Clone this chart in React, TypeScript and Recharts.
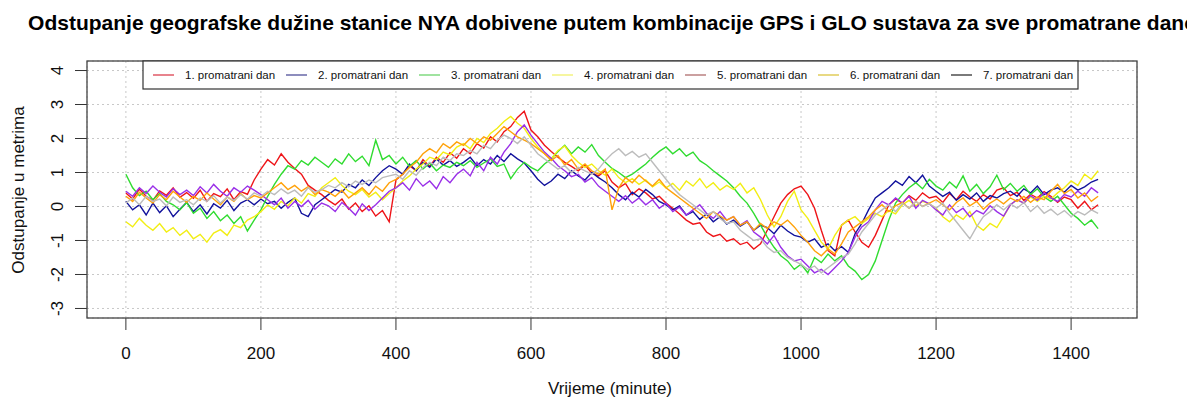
import React from 'react';
import { LineChart, Line, XAxis, YAxis, CartesianGrid } from 'recharts';

// time grid (minutes), sampled every 10 minutes
const minutes: number[] = Array.from({ length: 145 }, (_, i) => i * 10);

const xTicks = [0, 200, 400, 600, 800, 1000, 1200, 1400];
const yTicks = [-3, -2, -1, 0, 1, 2, 3, 4];

const seriesNames = [
  '1. promatrani dan',
  '2. promatrani dan',
  '3. promatrani dan',
  '4. promatrani dan',
  '5. promatrani dan',
  '6. promatrani dan',
  '7. promatrani dan',
];
const lineColors = ['#ee1418', '#12129c', '#30dc30', '#f2ee14', '#9a30e8', '#ffa20a', '#bcbcbc'];
const legendColors = ['#d83040', '#404090', '#60d060', '#f0f060', '#a86060', '#d8c030', '#202020'];

const day1 = [
  0.40, 0.22, 0.51, 0.30, 0.18, 0.46, 0.33, 0.55, 0.27, 0.41,
  0.24, 0.48, 0.15, 0.38, 0.29, 0.52, 0.20, 0.44, 0.36, 0.78,
  1.10, 1.38, 1.22, 1.55, 1.30, 1.12, 0.95, 0.62, 0.48, 0.35,
  0.18, 0.05, 0.22, -0.08, 0.10, -0.15, 0.02, -0.28, -0.12, -0.45,
  0.78, 0.95, 1.20, 1.05, 1.38, 1.18, 1.45, 1.30, 1.58, 1.42,
  1.70, 1.55, 1.85, 1.72, 2.05, 1.90, 2.20, 2.35, 2.62, 2.80,
  2.25, 2.05, 1.80, 1.62, 1.45, 1.30, 1.18, 1.05, 1.22, 0.98,
  0.90, 1.05, 0.72, 0.55, 0.68, 0.35, 0.52, 0.40, 0.22, 0.30,
  0.10, -0.05, -0.22, -0.40, -0.52, -0.48, -0.75, -0.88, -0.82, -1.02,
  -0.95, -1.12, -1.05, -1.25, -1.10, -0.70, -0.30, 0.10, 0.35, 0.52,
  0.60, 0.35, -0.05, -0.70, -1.30, -1.45, -0.55, -0.40, -0.75, -1.05,
  -1.20, -0.85, -0.40, 0.05, 0.22, 0.10, 0.32, 0.18, 0.40, 0.25,
  0.30, 0.12, 0.38, 0.20, 0.45, 0.28, 0.15, 0.35, 0.22, 0.48,
  0.55, 0.32, 0.42, 0.18, 0.36, 0.25, 0.44, 0.30, 0.12, 0.28,
  0.20, -0.05, 0.15, -0.10, 0.05,
];

const day2 = [
  0.15, -0.10, 0.05, -0.25, 0.10, -0.18, 0.02, -0.30, -0.08, 0.12,
  -0.15, 0.05, -0.22, 0.08, -0.05, 0.18, -0.12, 0.10, 0.20, 0.05,
  0.22, 0.08, 0.15, -0.05, 0.12, 0.25, -0.20, -0.30, 0.05, 0.20,
  0.35, 0.50, 0.42, 0.65, 0.55, 0.78, 0.62, 0.85, 1.05, 1.20,
  1.10, 0.95, 1.25, 1.05, 1.30, 1.15, 1.40, 1.22, 1.35, 1.18,
  1.30, 1.45, 1.20, 1.38, 1.25, 1.50, 1.32, 1.55, 1.40, 1.28,
  1.05, 0.80, 0.62, 0.75, 0.95, 0.82, 1.05, 0.90, 0.78, 1.00,
  0.85, 0.72, 0.55, 0.35, 0.20, 0.42, 0.28, 0.50, 0.35, 0.15,
  0.05, -0.10, 0.02, -0.25, -0.15, -0.38, -0.22, -0.45, -0.30, -0.52,
  -0.40, -0.58, -0.45, -0.70, -0.55, -0.62, -0.80, -0.55, -0.72, -0.85,
  -0.90, -1.05, -0.95, -1.20, -1.10, -1.30, -1.18, -1.35, -0.80, -0.50,
  -0.10, 0.25, 0.40, 0.55, 0.75, 0.62, 0.88, 0.70, 0.92, 0.60,
  0.45, 0.30, 0.42, 0.18, 0.35, 0.22, 0.40, 0.15, 0.32, 0.25,
  0.38, 0.45, 0.30, 0.52, 0.40, 0.60, 0.35, 0.48, 0.55, 0.42,
  0.62, 0.48, 0.58, 0.72, 0.80,
];

const day3 = [
  0.95, 0.55, 0.32, 0.45, 0.20, 0.38, 0.15, 0.05, -0.10, 0.12,
  -0.20, -0.05, -0.35, -0.15, -0.42, -0.25, -0.50, -0.30, -0.72, -0.40,
  -0.10, 0.30, 0.65, 0.95, 1.20, 1.10, 1.35, 1.22, 1.45, 1.30,
  1.15, 1.40, 1.25, 1.55, 1.32, 1.48, 1.20, 1.95, 1.38, 1.50,
  1.25, 1.45, 1.18, 1.35, 1.10, 1.28, 1.05, 1.22, 1.15, 1.30,
  1.20, 1.35, 1.15, 1.28, 1.40, 1.18, 1.25, 0.82, 1.10, 1.30,
  1.15, 1.05, 1.25, 1.40, 1.62, 1.80, 1.55, 1.75, 1.60, 1.82,
  1.50, 1.30, 1.12, 1.00, 0.85, 0.95, 1.10, 1.25, 1.45, 1.62,
  1.75, 1.55, 1.70, 1.48, 1.60, 1.35, 1.22, 1.05, 0.90, 0.75,
  0.55, 0.30, 0.10, -0.20, -0.55, -0.90, -1.20, -1.45, -1.60, -1.85,
  -1.70, -1.95, -1.50, -1.65, -1.40, -1.60, -1.45, -1.75, -1.90, -2.15,
  -2.00, -1.60, -1.00, -0.40, 0.10, 0.35, 0.55, 0.70, 0.52, 0.80,
  0.60, 0.48, 0.72, 0.55, 0.90, 0.45, 0.65, 0.38, 0.58, 0.92,
  0.50, 0.68, 0.45, 0.62, 0.35, 0.52, 0.28, 0.15, 0.30, 0.05,
  -0.20, -0.35, -0.55, -0.40, -0.65,
];

const day4 = [
  -0.45, -0.60, -0.35, -0.55, -0.70, -0.50, -0.75, -0.62, -0.85, -0.70,
  -0.95, -0.82, -1.05, -0.78, -0.68, -0.85, -0.55, -0.62, -0.40, -0.30,
  -0.15, 0.05, -0.08, 0.15, 0.02, 0.25, 0.10, 0.38, 0.30, 0.55,
  0.70, 0.85, 0.62, 0.45, 0.35, 0.50, 0.28, 0.42, 0.20, 0.38,
  0.55, 0.75, 0.90, 1.10, 1.25, 1.45, 1.38, 1.60, 1.52, 1.75,
  1.85, 1.70, 2.00, 1.88, 2.15, 2.30, 2.50, 2.65, 2.45, 2.30,
  2.00, 1.75, 1.55, 1.40, 1.65, 1.78, 1.50, 1.30, 1.15, 1.25,
  1.05, 0.92, 1.10, 0.85, 0.70, 0.82, 0.65, 0.78, 0.58, 0.72,
  0.55, 0.68, 0.48, 0.75, 0.60, 0.82, 0.55, 0.70, 0.48, 0.62,
  0.50, 0.68, 0.40, 0.55, 0.20, -0.25, -0.60, -0.30, 0.15, 0.45,
  -0.10, -0.35, -0.70, -1.05, -1.25, -0.85, -0.55, -0.40, -0.30, -0.50,
  -0.35, -0.20, -0.30, -0.12, -0.22, 0.05, 0.18, 0.02, 0.15, 0.08,
  -0.05, -0.30, -0.45, -0.25, -0.38, -0.15, -0.55, -0.70, -0.50, -0.62,
  -0.30, 0.05, 0.20, 0.10, 0.28, 0.15, 0.30, 0.22, 0.40, 0.55,
  0.75, 0.62, 0.95, 0.80, 1.05,
];

const day5 = [
  0.45, 0.30, 0.55, 0.38, 0.60, 0.42, 0.28, 0.52, 0.35, 0.48,
  0.32, 0.58, 0.40, 0.65, 0.45, 0.30, 0.55, 0.42, 0.60, 0.48,
  0.35, 0.20, 0.05, 0.25, -0.05, 0.15, 0.00, 0.18, -0.08, 0.10,
  0.02, -0.15, 0.12, -0.05, -0.25, 0.08, -0.12, 0.05, 0.25, 0.45,
  0.55, 0.70, 0.48, 0.82, 0.60, 0.75, 0.52, 0.88, 0.70, 0.95,
  1.10, 0.90, 1.30, 1.05, 1.45, 1.25, 1.60, 1.85, 2.20, 2.40,
  2.10, 1.85, 1.60, 1.42, 1.20, 1.05, 0.88, 0.95, 0.72, 0.85,
  0.60, 0.45, 0.30, 0.15, 0.32, 0.10, 0.25, 0.05, 0.20, -0.05,
  0.10, -0.15, -0.02, -0.25, -0.10, 0.05, -0.20, -0.35, -0.15, -0.40,
  -0.30, -0.55, -0.42, -0.75, -0.90, -1.10, -0.85, -1.20, -1.45, -1.60,
  -1.55, -1.75, -1.95, -1.85, -2.00, -1.80, -1.60, -1.35, -0.90, -0.60,
  -0.45, -0.10, 0.15, 0.05, 0.25, 0.10, 0.30, -0.05, 0.18, 0.08,
  -0.10, -0.25, 0.05, -0.18, -0.05, -0.30, -0.12, -0.22, 0.02, -0.15,
  -0.28, 0.05, 0.20, 0.10, 0.32, 0.18, 0.40, 0.25, 0.15, 0.35,
  0.28, 0.45, 0.30, 0.55, 0.40,
];

const day6 = [
  0.30, 0.15, 0.42, 0.25, 0.10, 0.35, 0.20, 0.45, 0.28, 0.12,
  0.30, 0.18, 0.40, 0.22, 0.05, 0.28, 0.15, 0.38, 0.20, 0.32,
  0.25, 0.40, 0.55, 0.70, 0.50, 0.62, 0.45, 0.58, 0.35, 0.50,
  0.42, 0.30, 0.48, 0.25, 0.40, 0.55, 0.35, 0.60, 0.45, 0.70,
  0.80, 0.95, 1.15, 1.30, 1.55, 1.70, 1.58, 1.85, 1.72, 1.90,
  1.80, 2.00, 1.85, 2.05, 1.95, 2.15, 2.35, 2.20, 2.05, 1.95,
  1.85, 1.70, 1.55, 1.35, 1.50, 1.22, 1.38, 1.10, 1.25, 1.05,
  0.95, 1.10, -0.10, 0.55, 0.85, 0.70, 0.92, 0.75, 0.60, 0.80,
  0.55, 0.40, 0.25, 0.10, -0.05, -0.20, -0.35, -0.15, -0.28, -0.40,
  -0.30, -0.55, -0.45, -0.70, -0.50, -0.65, -0.45, -0.55, -0.40, -0.60,
  -0.85, -1.05, -1.30, -1.45, -1.25, -1.40, -1.10, -0.75, -0.60, -0.45,
  -0.30, -0.10, 0.05, -0.15, 0.02, 0.12, -0.05, 0.15, 0.00, 0.10,
  0.20, 0.05, -0.10, 0.12, 0.25, 0.02, 0.15, -0.08, 0.10, 0.22,
  0.08, 0.25, 0.15, 0.30, 0.12, 0.28, 0.20, 0.45, 0.65, 0.38,
  0.50, 0.25, 0.40, 0.15, 0.30,
];

const day7 = [
  0.10, 0.25, 0.05, 0.30, 0.15, 0.22, 0.02, 0.28, 0.12, 0.20,
  0.05, 0.25, 0.15, 0.32, 0.10, 0.28, 0.18, 0.35, 0.22, 0.40,
  0.30, 0.45, 0.35, 0.52, 0.38, 0.48, 0.30, 0.55, 0.42, 0.50,
  0.62, 0.55, 0.70, 0.58, 0.75, 0.65, 0.78, 0.70, 0.85, 0.90,
  0.95, 0.80, 1.05, 0.92, 1.15, 1.30, 1.20, 1.45, 1.35, 1.55,
  1.50, 1.65, 1.55, 1.80, 1.70, 1.95, 2.10, 2.00, 1.85, 2.05,
  1.80, 1.55, 1.40, 1.25, 1.10, 1.20, 1.00, 1.15, 1.05, 0.95,
  1.10, 1.35, 1.55, 1.70, 1.50, 1.62, 1.45, 1.55, 1.30, 1.05,
  0.80, 0.55, 0.35, 0.20, 0.05, -0.10, -0.25, -0.15, -0.35, -0.50,
  -0.45, -0.70, -0.85, -1.00, -0.95, -1.20, -1.35, -1.30, -1.50, -1.60,
  -1.70, -1.85, -1.75, -1.95, -1.80, -1.65, -1.50, -1.40, -1.10, -0.75,
  -0.50, -0.25, -0.10, 0.05, -0.15, 0.10, -0.05, 0.15, 0.00, 0.08,
  -0.05, 0.10, -0.20, -0.45, -0.70, -0.95, -0.60, -0.30, -0.15, 0.05,
  -0.10, 0.08, -0.05, 0.12, -0.15, 0.02, -0.20, -0.08, -0.25, -0.12,
  -0.30, -0.15, -0.25, -0.10, -0.20,
];

const allDays = [day1, day2, day3, day4, day5, day6, day7];
const keys = ['d1', 'd2', 'd3', 'd4', 'd5', 'd6', 'd7'];

const data = minutes.map((t, i) => {
  const row: Record<string, number> = { t };
  allDays.forEach((d, k) => {
    row[keys[k]] = d[i];
  });
  return row;
});

const FONT = '"Liberation Sans", Arial, Helvetica, sans-serif';

const W = 1187;
const H = 403;
const PL = 87;
const PT = 61;
const PW = 1050;
const PH = 257;

const XTick = (props: any) => {
  const { x, payload } = props;
  return (
    <text x={x} y={359} textAnchor="middle" fontSize={17} fontFamily={FONT} fill="#111">
      {payload.value}
    </text>
  );
};

const YTick = (props: any) => {
  const { y, payload } = props;
  return (
    <text
      transform={`translate(57, ${y}) rotate(-90)`}
      textAnchor="middle"
      dominantBaseline="central"
      fontSize={17}
      fontFamily={FONT}
      fill="#111"
    >
      {payload.value}
    </text>
  );
};

export default function App() {
  return (
    <div
      style={{
        position: 'absolute',
        left: 0,
        top: 0,
        width: W,
        height: H,
        overflow: 'hidden',
        background: '#fff',
      }}
    >
      <LineChart width={W} height={H} data={data} margin={{ top: PT, right: W - PL - PW, bottom: 0, left: 0 }}>
        <CartesianGrid stroke="#c8c8c8" strokeDasharray="2 3" />
        <XAxis
          dataKey="t"
          type="number"
          domain={[-57.6, 1497.6]}
          ticks={xTicks}
          height={H - PT - PH}
          tick={<XTick />}
          tickSize={12}
          tickLine={{ stroke: '#333' }}
          axisLine={false}
          interval={0}
        />
        <YAxis
          type="number"
          domain={[-3.28, 4.28]}
          ticks={yTicks}
          width={PL}
          tick={<YTick />}
          tickSize={12}
          tickLine={{ stroke: '#333' }}
          axisLine={false}
          interval={0}
        />
        {keys.map((k, i) => (
          <Line
            key={k}
            dataKey={k}
            name={seriesNames[i]}
            type="linear"
            stroke={lineColors[i]}
            strokeWidth={1.4}
            dot={false}
            isAnimationActive={false}
          />
        ))}
      </LineChart>
      <svg
        width={W}
        height={H}
        style={{ position: 'absolute', left: 0, top: 0, pointerEvents: 'none' }}
      >
        <text x={612} y={30} textAnchor="middle" fontSize={21} fontWeight="bold" fontFamily={FONT} fill="#000">
          Odstupanje geografske dužine stanice NYA dobivene putem kombinacije GPS i GLO sustava za sve promatrane dane
        </text>
        <rect x={PL} y={PT} width={PW} height={PH} fill="none" stroke="#444" strokeWidth={1.3} />
        <text
          transform="translate(18, 190) rotate(-90)"
          textAnchor="middle"
          dominantBaseline="central"
          fontSize={17}
          fontFamily={FONT}
          fill="#111"
        >
          Odstupanje u metrima
        </text>
        <text x={610} y={394} textAnchor="middle" fontSize={17} fontFamily={FONT} fill="#111">
          Vrijeme (minute)
        </text>
        <rect x={143} y={61} width={935} height={28} fill="#fff" stroke="#333" strokeWidth={1.2} />
        {seriesNames.map((n, i) => {
          const x0 = 153 + 133 * i;
          return (
            <g key={n}>
              <line x1={x0} x2={x0 + 21} y1={75} y2={75} stroke={legendColors[i]} strokeWidth={1.2} />
              <text x={x0 + 32} y={75} dominantBaseline="central" fontSize={11.5} fontFamily={FONT} fill="#111">
                {n}
              </text>
            </g>
          );
        })}
      </svg>
    </div>
  );
}
